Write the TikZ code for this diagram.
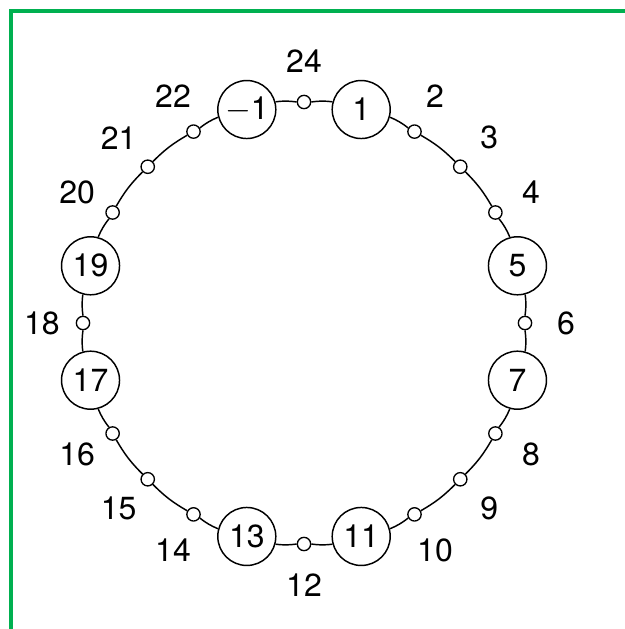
\documentclass[tikz,border=0pt]{standalone}
\usepackage{fontspec}
\setmainfont{TeX Gyre Heros}
\usepackage{xcolor}
\definecolor{framegreen}{HTML}{00B050}

\begin{document}
\begin{tikzpicture}[
  x=0.75pt, y=0.75pt,
  font=\fontsize{24}{28}\selectfont,
  big/.style={draw, circle, line width=1.1pt, fill=white, inner sep=0pt, minimum size=43.5pt},
  small/.style={draw, circle, line width=1pt, fill=white, inner sep=0pt, minimum size=10pt},
  lbl/.style={inner sep=0pt},
  ring/.style={line width=1.1pt}
]
\useasboundingbox (0,0) rectangle (625,629);
\draw[framegreen, line width=3pt] (11,0) -- (11,618) -- (625,618);
\coordinate (c) at (304,306);
% big rings
\foreach \k/\t in {1/1,5/5,7/7,11/11,13/13,17/17,19/19,23/{$-$1}}
  \node[big] (p\k) at ([shift={(90-15*\k:221)}]c) {\t};
% small rings with their numbers outside
\foreach \k in {2,3,4,6,8,9,10,12,14,15,16,18,20,21,22,24} {
  \node[small] (p\k) at ([shift={(90-15*\k:221)}]c) {};
  \node[lbl] (l\k) at ([shift={(90-15*\k:262)}]c) {\k};
}
% arcs between neighbours
\foreach \k [evaluate=\k as \n using {int(mod(\k,24)+1)}] in {1,...,24}
  \draw[ring] (p\k) to[bend left=7.5] (p\n);
\end{tikzpicture}
\end{document}
